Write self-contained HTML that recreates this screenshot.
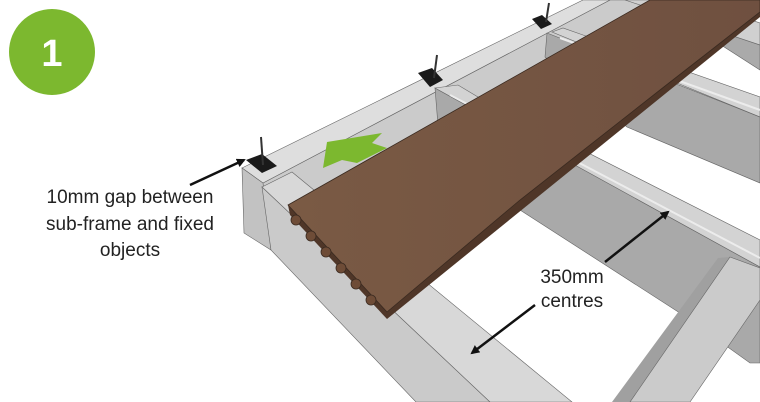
<!DOCTYPE html>
<html><head><meta charset="utf-8"><style>
html,body{margin:0;padding:0;background:#fff}
svg{display:block}
text{font-family:"Liberation Sans",sans-serif}
</style></head><body>
<svg width="760" height="402" viewBox="0 0 760 402" xmlns="http://www.w3.org/2000/svg">
<defs>
<marker id="ah" markerWidth="9" markerHeight="9" refX="7" refY="4.5" orient="auto" markerUnits="userSpaceOnUse">
<path d="M0,0 L9,4.5 L0,9 z" fill="#111"/></marker>
<linearGradient id="wood" x1="0" y1="0" x2="1" y2="0">
<stop offset="0" stop-color="#7a5a44"/><stop offset="1" stop-color="#6f5040"/></linearGradient>
</defs>
<circle cx="52" cy="52" r="43" fill="#7cb82f"/>
<text x="52" y="66" font-size="38" font-weight="bold" fill="#fff" text-anchor="middle">1</text>

<!-- back beam -->
<polygon points="263,183 610,0 760,0 760,0 270,246" fill="#cbcbcb" stroke="#666" stroke-width="0.6"/>
<polygon points="242,168 583,0 610,0 263,183" fill="#dedede" stroke="#666" stroke-width="0.6"/>
<polygon points="242,168 263,183 271,250 244,233" fill="#c2c2c2" stroke="#666" stroke-width="0.6"/>

<!-- joist 4 -->
<polygon points="660,0 760,45 760,70 690,25" fill="#aaaaaa" stroke="#666" stroke-width="0.6"/>
<polygon points="625,0 690,0 760,23 760,45" fill="#d0d0d0" stroke="#666" stroke-width="0.6"/>
<!-- joist 3 -->
<polygon points="547,33 760,117 760,183 627,127 545,57" fill="#a9a9a9" stroke="#666" stroke-width="0.6"/>
<polygon points="552,32 563,28 583,35 760,97 760,117" fill="#d3d3d3" stroke="#666" stroke-width="0.6"/>
<line x1="560" y1="38" x2="760" y2="110" stroke="#ececec" stroke-width="2"/>
<!-- joist 2 -->
<polygon points="435,88 760,267 760,363 750,363 683,315 520,210 440,150" fill="#a9a9a9" stroke="#666" stroke-width="0.6"/>
<polygon points="435,88 458,85 478,97 760,240 760,267" fill="#d3d3d3" stroke="#666" stroke-width="0.6"/>
<line x1="450" y1="95" x2="760" y2="258" stroke="#ececec" stroke-width="2"/>

<!-- joist 1 -->
<polygon points="262,187 490,402 416,402 271,250" fill="#cacaca" stroke="#666" stroke-width="0.6"/>
<polygon points="262,187 292,172 572,402 490,402" fill="#d8d8d8" stroke="#666" stroke-width="0.6"/>

<!-- diagonal front beam -->
<polygon points="718,258 730,257 630,402 612,402" fill="#a0a0a0"/>
<polygon points="730,257 760,268 760,300 690,402 630,402" fill="#cbcbcb" stroke="#666" stroke-width="0.6"/>

<!-- board -->
<polygon points="288,205 650,0 760,0 760,17 387,319 290,215" fill="#4f3628"/>
<polygon points="288,205 650,0 760,0 760,12 660,90 520,200 387,312" fill="url(#wood)" stroke="#3a2a20" stroke-width="0.8"/>
<g fill="#6e4c37" stroke="#3a2a20" stroke-width="0.8">
<circle cx="296" cy="220" r="5"/><circle cx="311" cy="236" r="5"/><circle cx="326" cy="252" r="5"/>
<circle cx="341" cy="268" r="5"/><circle cx="356" cy="284" r="5"/><circle cx="371" cy="300" r="5"/>
</g>

<!-- clips -->
<g fill="#1a1a1a">
<polygon points="246,160 262,154 277,166 262,173"/>
<polygon points="418,73 432,68 443,80 430,87"/>
<polygon points="532,19 542,15 552,24 541,29"/>
</g>
<g stroke="#333" stroke-width="2">
<line x1="261" y1="137" x2="263" y2="165"/><line x1="437" y1="55" x2="434" y2="78"/><line x1="549" y1="3" x2="546" y2="22"/>
</g>

<!-- green arrow -->
<polygon points="323,168 327,142 382,133 372,143 387,148 357,163 342,160" fill="#7cb82f"/>

<!-- arrows -->
<line x1="190" y1="185" x2="244" y2="160" stroke="#111" stroke-width="2.5" marker-end="url(#ah)"/>
<line x1="605" y1="262" x2="668" y2="212" stroke="#111" stroke-width="2.5" marker-end="url(#ah)"/>
<line x1="535" y1="305" x2="472" y2="353" stroke="#111" stroke-width="2.5" marker-end="url(#ah)"/>

<g font-size="19" fill="#222" text-anchor="middle">
<text x="130" y="203">10mm gap between</text>
<text x="130" y="230">sub-frame and fixed</text>
<text x="130" y="256">objects</text>
<text x="572" y="283">350mm</text>
<text x="572" y="307">centres</text>
</g>
</svg>
</body></html>
